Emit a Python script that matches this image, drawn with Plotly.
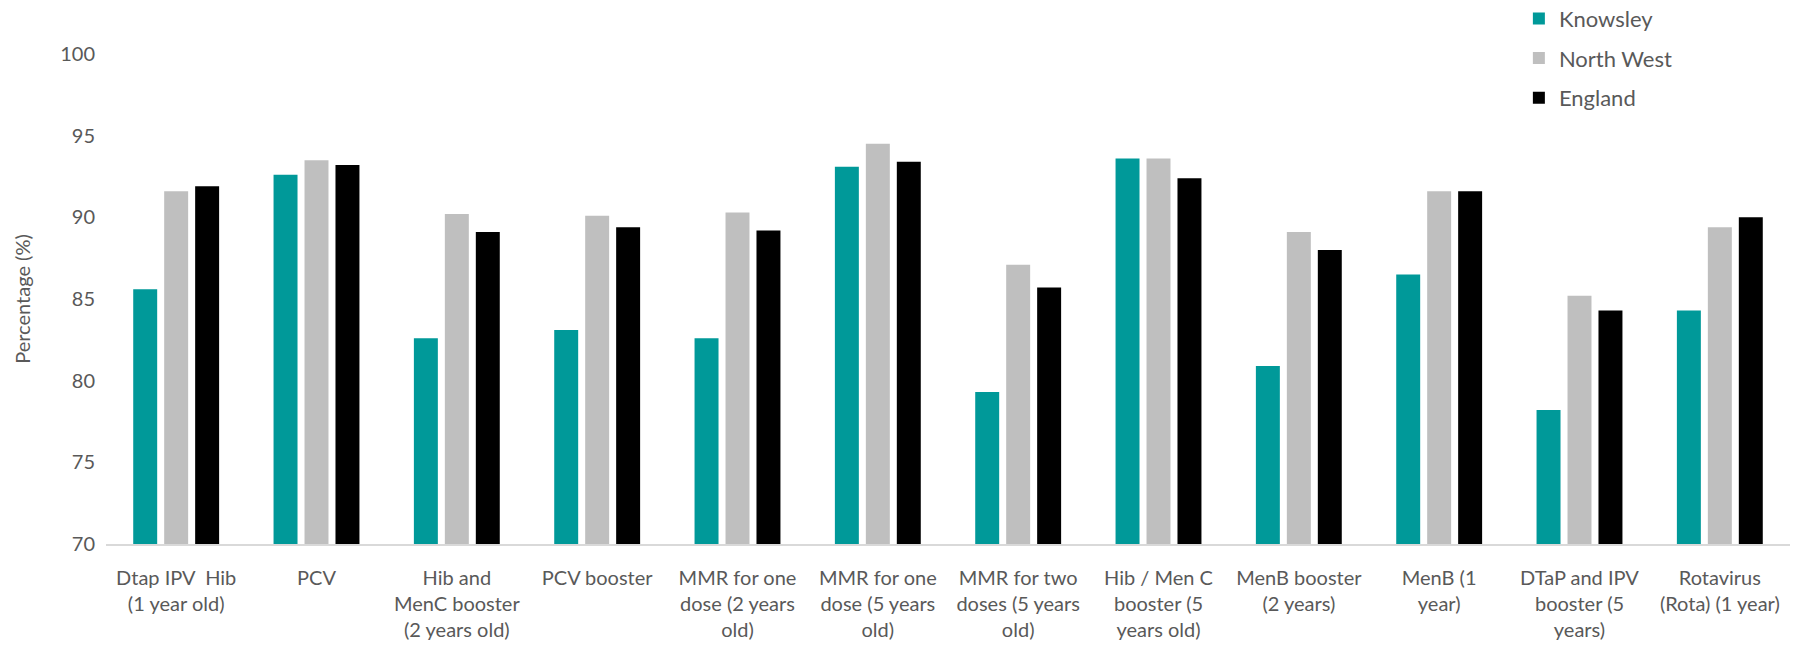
import plotly.graph_objects as go

# Childhood vaccination coverage by vaccine, three geographies
categories = [
    "Dtap IPV Hib (1 year old)",
    "PCV",
    "Hib and MenC booster (2 years old)",
    "PCV booster",
    "MMR for one dose (2 years old)",
    "MMR for one dose (5 years old)",
    "MMR for two doses (5 years old)",
    "Hib / Men C booster (5 years old)",
    "MenB booster (2 years)",
    "MenB (1 year)",
    "DTaP and IPV booster (5 years)",
    "Rotavirus (Rota) (1 year)",
]

tick_labels = [
    "Dtap IPV  Hib<br>(1 year old)",
    "PCV",
    "Hib and<br>MenC booster<br>(2 years old)",
    "PCV booster",
    "MMR for one<br>dose (2 years<br>old)",
    "MMR for one<br>dose (5 years<br>old)",
    "MMR for two<br>doses (5 years<br>old)",
    "Hib / Men C<br>booster (5<br>years old)",
    "MenB booster<br>(2 years)",
    "MenB (1<br>year)",
    "DTaP and IPV<br>booster (5<br>years)",
    "Rotavirus<br>(Rota) (1 year)",
]

knowsley = [85.6, 92.6, 82.6, 83.1, 82.6, 93.1, 79.3, 93.6, 80.9, 86.5, 78.2, 84.3]
north_west = [91.6, 93.5, 90.2, 90.1, 90.3, 94.5, 87.1, 93.6, 89.1, 91.6, 85.2, 89.4]
england = [91.9, 93.2, 89.1, 89.4, 89.2, 93.4, 85.7, 92.4, 88.0, 91.6, 84.3, 90.0]

series = [
    ("Knowsley", knowsley, "#009999"),
    ("North West", north_west, "#BFBFBF"),
    ("England", england, "#000000"),
]

FONT = "Lato, 'Open Sans', sans-serif"
TEXT_GREY = "#595959"

fig = go.Figure()
for i, (name, values, colour) in enumerate(series):
    fig.add_trace(
        go.Bar(
            name=name,
            x=categories,
            y=values,
            marker=dict(color=colour, line=dict(width=0)),
            legendgroup=f"g{i}",
        )
    )

fig.update_layout(
    width=1796,
    height=646,
    barmode="group",
    bargap=0.338,
    bargroupgap=0.226,
    plot_bgcolor="white",
    paper_bgcolor="white",
    margin=dict(l=106, r=6, t=54, b=102, autoexpand=False),
    font=dict(family=FONT, size=20, color=TEXT_GREY),
    legend=dict(
        x=0.839,
        y=1.115,
        xanchor="left",
        yanchor="top",
        orientation="v",
        font=dict(family=FONT, size=22, color=TEXT_GREY),
        tracegroupgap=8,
        bgcolor="rgba(0,0,0,0)",
    ),
)

fig.update_xaxes(
    type="category",
    tickmode="array",
    tickvals=categories,
    ticktext=tick_labels,
    tickangle=0,
    ticks="",
    showline=True,
    linecolor="#D9D9D9",
    linewidth=2,
    showgrid=False,
    zeroline=False,
    ticklabelstandoff=15,
    tickfont=dict(family=FONT, size=20, color=TEXT_GREY),
    automargin=False,
)

fig.update_yaxes(
    range=[70, 100],
    dtick=5,
    tick0=70,
    showgrid=False,
    zeroline=False,
    showline=False,
    ticks="",
    ticklabelstandoff=10,
    tickfont=dict(family=FONT, size=20, color=TEXT_GREY),
    title=dict(text="Percentage (%)", font=dict(family=FONT, size=20, color=TEXT_GREY), standoff=24),
    automargin=False,
)

fig.write_html("out.html")
